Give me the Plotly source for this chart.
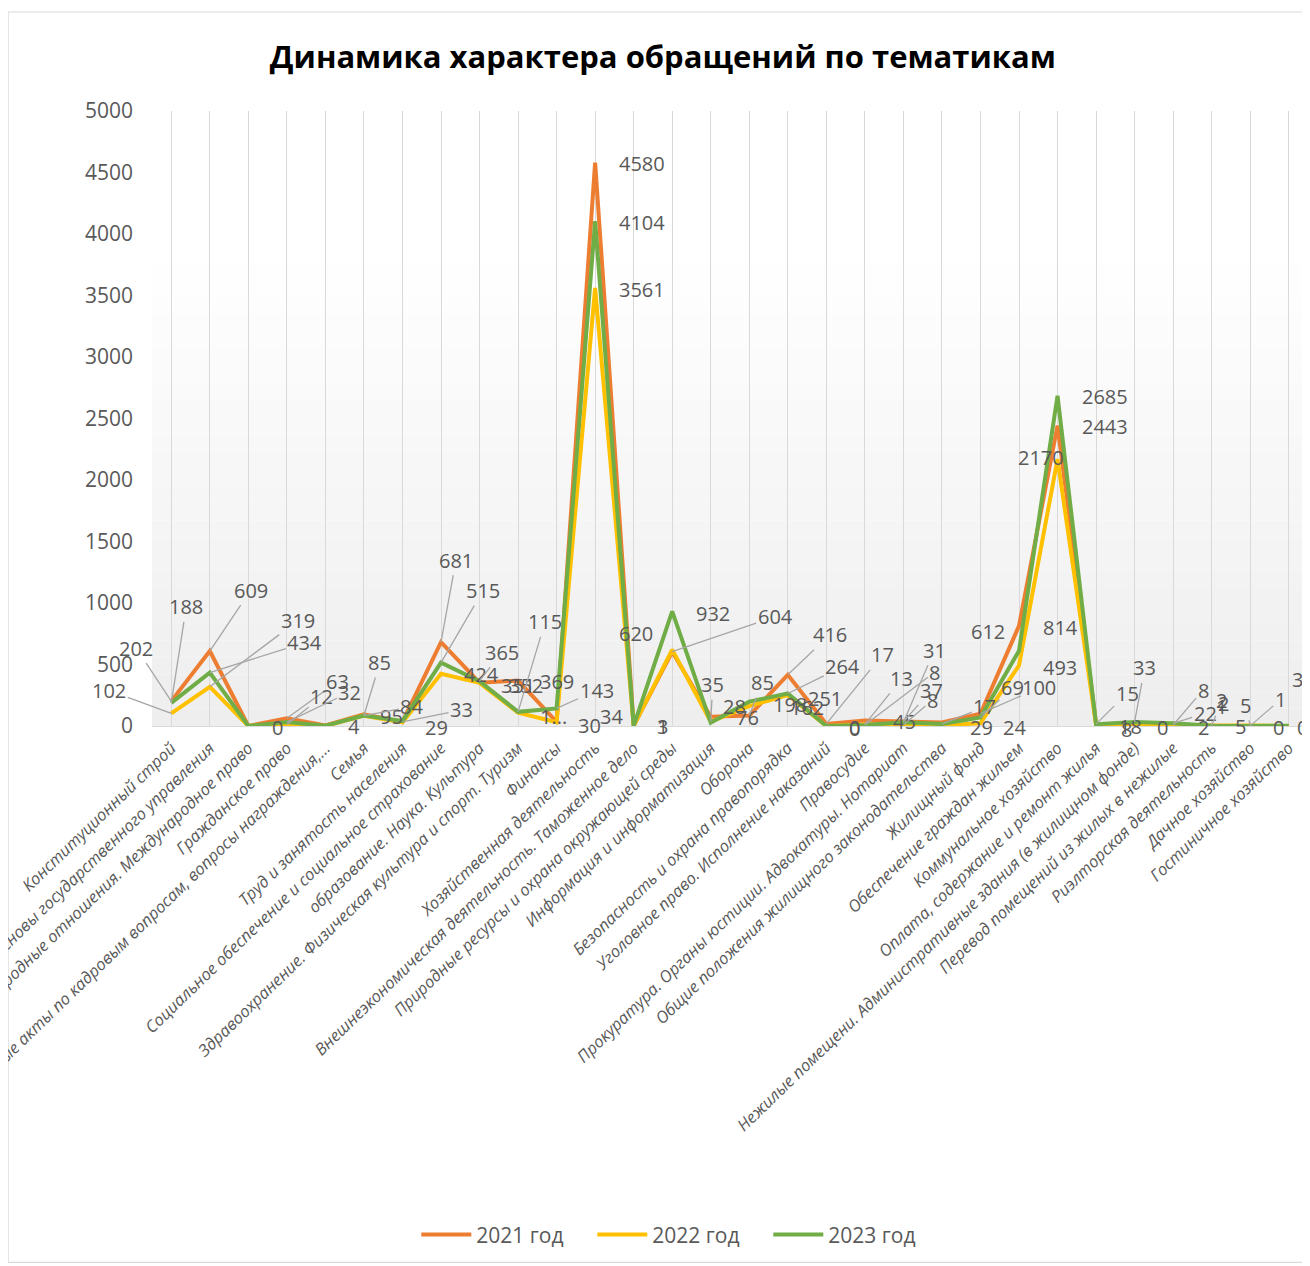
import plotly.graph_objects as go

categories = [
    "Конституционный строй",
    "Основы государственного управления",
    "Международные отношения. Международное право",
    "Гражданское право",
    "Индивидуальные правовые акты по кадровым вопросам, вопросы награждения,...",
    "Семья",
    "Труд и занятость населения",
    "Социальное обеспечение и социальное страхование",
    "образование. Наука. Культура",
    "Здравоохранение. Физическая культура и спорт. Туризм",
    "Финансы",
    "Хозяйственная деятельность",
    "Внешнеэкономическая деятельность. Таможенное дело",
    "Природные ресурсы и охрана окружающей среды",
    "Информация и информатизация",
    "Оборона",
    "Безопасность и охрана правопорядка",
    "Уголовное право. Исполнение наказаний",
    "Правосудие",
    "Прокуратура. Органы юстиции. Адвокатуры. Нотариат",
    "Общие положения жилищного законодательства",
    "Жилищный фонд",
    "Обеспечение граждан жильем",
    "Коммунальное хозяйство",
    "Оплата, содержание и ремонт жилья",
    "Нежилые помещени. Административные здания (в жилищном фонде)",
    "Перевод помещений из жилых в нежилые",
    "Риэлторская деятельность",
    "Дачное хозяйство",
    "Гостиничное хозяйство",
]

y2021 = [202, 609, 0, 63, 4, 95, 33, 681, 352, 369, 34, 4580, 3, 604, 76, 85, 416, 17, 45, 37, 29, 100, 814, 2443, 18, 0, 8, 2, 5, 0]
y2022 = [102, 319, 0, 12, 0, 84, 29, 424, 351, 108, 30, 3561, 1, 620, 35, 162, 251, 0, 13, 8, 2, 24, 493, 2170, 8, 0, 2, 1, 5, 0]
y2023 = [188, 434, 0, 32, 2, 85, 40, 515, 365, 115, 143, 4104, 1, 932, 28, 198, 264, 0, 8, 31, 17, 69, 612, 2685, 15, 33, 22, 2, 1, 3]

series_names = ["2021 год", "2022 год", "2023 год"]
series_values = [y2021, y2022, y2023]
series_colors = ["#ED7D31", "#FFC000", "#70AD47"]

y_ticks = [0, 500, 1000, 1500, 2000, 2500, 3000, 3500, 4000, 4500, 5000]

# data-label placement: (category index, series index, dx px, dy px, leader line, shown text)
label_layout = [
    (0, 0, -35, -53, True, None), (0, 2, 15, -96, True, None), (0, 1, -62, -23, True, None),
    (1, 0, 41, -61, True, None), (1, 1, 88, -66, True, None), (1, 2, 95, -30, True, None),
    (2, 1, 29, 1, False, None),
    (3, 0, 51, -37, True, None), (3, 1, 35, -28, True, None), (3, 2, 63, -30, True, None),
    (4, 0, 29, 1, False, None),
    (5, 2, 16, -53, True, None), (5, 0, 28, 2, False, None), (5, 1, 48, -9, True, None),
    (6, 1, 34, 5, False, None), (6, 0, 59, -12, True, None),
    (7, 0, 15, -82, True, None), (7, 2, 42, -72, True, None), (7, 1, 40, 1, False, None),
    (8, 2, 22, -29, True, None), (8, 1, 38, 3, False, None), (8, 0, 46, 3, False, None),
    (9, 0, 39, 1, False, None), (9, 2, 27, -90, True, None), (9, 1, 35, 4, False, "1..."),
    (10, 2, 40, -18, True, None), (10, 1, 33, 3, False, None), (10, 0, 55, -5, False, None),
    (11, 0, 47, 1, False, None), (11, 2, 47, 1, False, None), (11, 1, 47, 1, False, None),
    (12, 0, 29, 1, False, None), (12, 1, 29, 1, False, None),
    (13, 1, -36, -16, False, None), (13, 2, 41, 2, False, None), (13, 0, 103, -35, True, None),
    (14, 1, 2, -37, True, None), (14, 2, 24, -16, False, None), (14, 0, 37, 1, False, None),
    (15, 0, 13, -33, True, None), (15, 2, 41, 3, False, None), (15, 1, 58, 1, False, None),
    (16, 0, 42, -40, True, None), (16, 2, 55, -27, True, None), (16, 1, 37, 3, False, None),
    (17, 1, 28, 1, False, None), (17, 2, 28, 2, False, None), (17, 0, 56, -69, True, None),
    (18, 0, 40, 1, False, None), (18, 1, 37, -46, True, None), (18, 2, 70, -53, True, None),
    (19, 0, 28, -31, True, None), (19, 1, 29, -25, True, None), (19, 2, 31, -72, True, None),
    (20, 0, 40, 5, False, None), (20, 2, 43, -17, True, None),
    (21, 0, 59, -26, True, None), (21, 2, 32, -30, True, None), (21, 1, 34, 4, False, None),
    (22, 2, -31, -19, False, None), (22, 0, 41, 2, False, None), (22, 1, 41, 2, False, None),
    (23, 2, 47, 1, False, None), (23, 0, 47, 1, False, None), (23, 1, -17, -2, False, None),
    (24, 2, 31, -31, True, None), (24, 0, 34, 3, False, None), (24, 1, 30, 4, False, None),
    (25, 2, 10, -54, True, None), (25, 0, 28, 1, False, None),
    (26, 0, 30, -35, True, None), (26, 2, 32, -10, True, None), (26, 1, 30, 2, False, None),
    (27, 0, 10, -25, True, None), (27, 1, 10, -19, False, None), (27, 2, 12, -22, False, None),
    (28, 0, -10, 1, False, None), (28, 1, -5, -20, True, None), (28, 2, 30, -26, True, None),
    (29, 0, -10, 1, False, None), (29, 2, 9, -46, False, None), (29, 1, 14, 1, False, None),
]

fig = go.Figure()

# gradient plot background (style only)
n_steps = 28
top_frac = 0.78
for k in range(n_steps):
    f0 = top_frac * k / n_steps
    f1 = top_frac * (k + 1) / n_steps
    t = k / (n_steps - 1)
    c = int(round(238 + (255 - 238) * t))
    fig.add_shape(type="rect", xref="x domain", yref="y domain", x0=0, x1=1, y0=f0, y1=f1,
                  fillcolor=f"rgb({c},{c},{c})", line=dict(width=0), layer="below")

for name, vals, col in zip(series_names, series_values, series_colors):
    fig.add_trace(go.Scatter(
        x=categories, y=vals, name=name, mode="lines",
        line=dict(color=col, width=4), hoverinfo="x+y+name",
    ))

label_font = dict(family="Open Sans, sans-serif", size=20, color="#595959")
for (i, s, dx, dy, leader, override) in label_layout:
    v = series_values[s][i]
    txt = override if override is not None else str(v)
    if leader:
        fig.add_annotation(x=categories[i], y=v, xref="x", yref="y", text=txt,
                           showarrow=True, arrowhead=0, arrowwidth=1.3, arrowcolor="#a6a6a6",
                           ax=dx, ay=dy, axref="pixel", ayref="pixel", standoff=0,
                           font=label_font)
    else:
        fig.add_annotation(x=categories[i], y=v, xref="x", yref="y", text=txt,
                           showarrow=False, xshift=dx, yshift=-dy, font=label_font)

# chart border
fig.add_shape(type="rect", xref="paper", yref="paper", x0=-0.1245, x1=1.05, y0=-0.872, y1=1.161,
              line=dict(color="#d9d9d9", width=1.2), fillcolor="rgba(0,0,0,0)", layer="below")

fig.update_layout(
    width=1302, height=1258,
    margin=dict(l=144, r=1.5, t=103, b=540),
    paper_bgcolor="white", plot_bgcolor="white",
    title=dict(text="<b>Динамика характера обращений по тематикам</b>",
               x=0.503, xanchor="center", y=0.961, yanchor="middle", yref="container",
               font=dict(family="Open Sans, sans-serif", size=31, color="#000000")),
    xaxis=dict(type="category", range=[-0.5, len(categories) - 0.5],
               showgrid=True, gridcolor="#d9d9d9", gridwidth=1,
               showline=True, linecolor="#d9d9d9", linewidth=1.2,
               ticks="", tickangle=-44, automargin=False, ticklabelstandoff=5,
               tickfont=dict(family="Open Sans, sans-serif", size=16.5, color="#595959", style="italic")),
    yaxis=dict(range=[0, 5000], tickvals=y_ticks, showgrid=False, zeroline=False,
               showline=False, ticks="", automargin=False, ticklabelstandoff=18,
               tickfont=dict(family="Open Sans, sans-serif", size=21, color="#595959")),
    legend=dict(orientation="h", x=0.457, xanchor="center", y=-0.8276, yanchor="middle",
                font=dict(family="Open Sans, sans-serif", size=21, color="#595959"),
                itemwidth=50, entrywidth=111, entrywidthmode="pixels", bgcolor="rgba(0,0,0,0)"),
    showlegend=True,
)

fig.write_html("out.html")
